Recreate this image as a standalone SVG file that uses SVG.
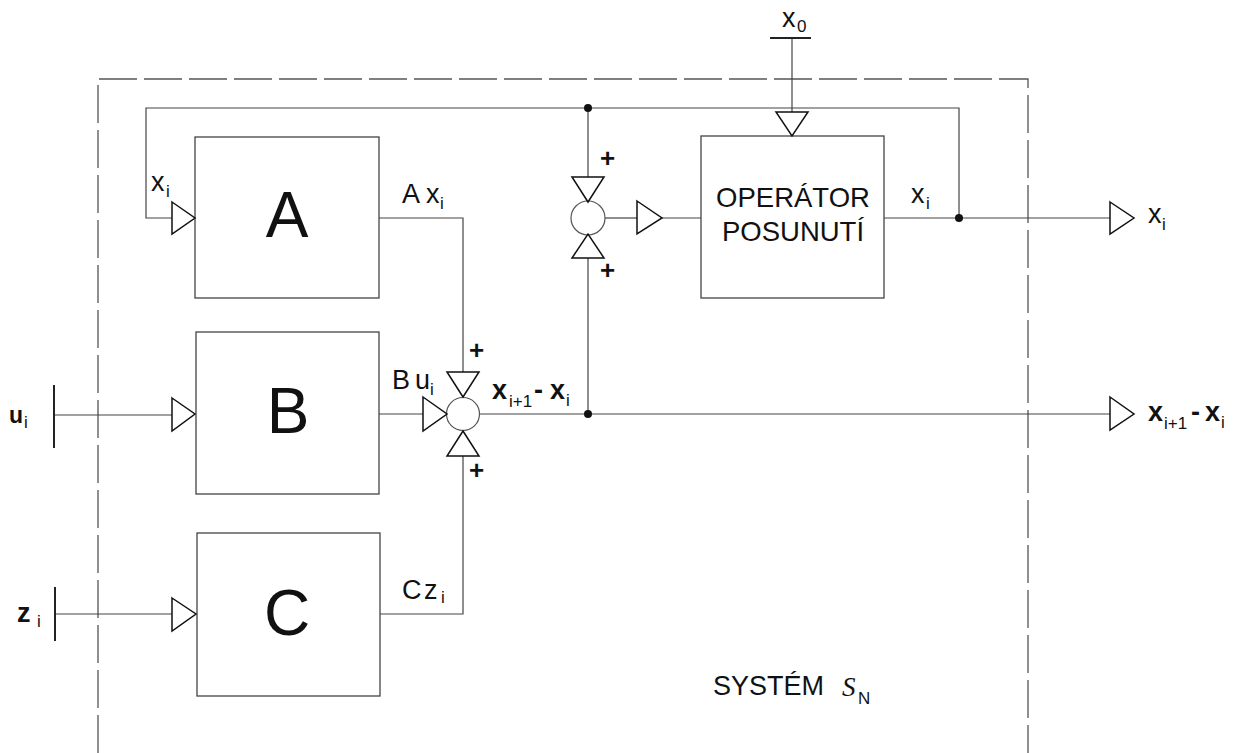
<svg xmlns="http://www.w3.org/2000/svg" width="1235" height="753" viewBox="0 0 1235 753">
<style>
.box{fill:#fff;stroke:#444;stroke-width:1.3}
.ln{fill:none;stroke:#444;stroke-width:1.2}
.bar{fill:none;stroke:#222;stroke-width:2}
.tri{fill:#fff;stroke:#111;stroke-width:1.5;stroke-linejoin:miter}
.sum{fill:#fff;stroke:#555;stroke-width:1.2}
.dot{fill:#111}
.frame{fill:none;stroke:#555;stroke-width:1.3;stroke-dasharray:38 7}
text{font-family:"Liberation Sans",Arial,sans-serif;fill:#111}
.big{font-size:64px;text-anchor:middle}
.op{font-size:27.5px;text-anchor:middle}
.lb{font-size:27px}
.lbb{font-size:27px;font-weight:bold}
.sub{font-size:17px}
.plus{font-size:26px;font-weight:bold}
</style>
<rect width="1235" height="753" fill="#fff"/>
<g id="frame"><path class="frame" d="M98,753 V79 H1028 V753"/></g>
<g id="connectors">
<path class="ln" d="M959,218 V108 H146 V218 H172"/>
<path class="ln" d="M884,218 H1110"/>
<path class="ln" d="M792,38 V112"/>
<path class="ln" d="M379,218 H463 V372"/>
<path class="ln" d="M379,414 H423"/>
<path class="ln" d="M380,614 H463 V456"/>
<path class="ln" d="M480,414 H1110"/>
<path class="ln" d="M588,108 V177"/>
<path class="ln" d="M588,414 V258"/>
<path class="ln" d="M605,218 H637"/>
<path class="ln" d="M662,218 H701"/>
<path class="ln" d="M54,415 H172"/>
<path class="ln" d="M55,614 H172"/>
<circle class="dot" cx="588" cy="108" r="4"/>
<circle class="dot" cx="588" cy="414" r="4"/>
<circle class="dot" cx="959" cy="218" r="4"/>
</g>
<g id="blockA">
<rect class="box" x="195" y="137" width="184" height="161"/>
<text class="big" x="287" y="237">A</text>
<polygon class="tri" points="172,202 195,218 172,234"/>
</g>
<g id="blockB">
<rect class="box" x="196" y="332" width="183" height="162"/>
<text class="big" x="288" y="433">B</text>
<polygon class="tri" points="172,398 195,414 172,431"/>
</g>
<g id="blockC">
<rect class="box" x="197" y="533" width="183" height="163"/>
<text class="big" x="287" y="635">C</text>
<polygon class="tri" points="172,598 196,614 172,631"/>
</g>
<g id="operator">
<rect class="box" x="701" y="136" width="183" height="162"/>
<text class="op" x="793" y="207">OPERÁTOR</text>
<text class="op" x="793" y="241">POSUNUTÍ</text>
<polygon class="tri" points="637,201 662,218 637,234"/>
<polygon class="tri" points="776,112 808,112 792,136"/>
</g>
<g id="sum1">
<circle class="sum" cx="463" cy="414" r="16.5"/>
<polygon class="tri" points="423,397 447,414 423,431"/>
<polygon class="tri" points="447,372 479,372 463,397"/>
<polygon class="tri" points="447,456 479,456 463,431"/>
<text class="plus" x="469" y="359">+</text>
<text class="plus" x="469" y="479">+</text>
</g>
<g id="sum2">
<circle class="sum" cx="588" cy="218" r="17"/>
<polygon class="tri" points="572,177 604,177 588,202"/>
<polygon class="tri" points="572,258 604,258 588,234"/>
<text class="plus" x="600" y="167">+</text>
<text class="plus" x="600" y="279">+</text>
</g>
<g id="input-u">
<path class="bar" d="M54,385 V448"/>
<text class="lbb" x="9" y="423" style="font-size:23px">u</text><text class="sub" x="24" y="428">i</text>
</g>
<g id="input-z">
<path class="bar" d="M55,587 V641"/>
<text class="lbb" x="17" y="622">z</text><text class="sub" x="37" y="627">i</text>
</g>
<g id="input-x0">
<path class="bar" d="M770,38 H811"/>
<text class="lb" x="782" y="27">x</text><text class="sub" x="797" y="32">0</text>
</g>
<g id="output-xi">
<polygon class="tri" points="1110,202 1134,218 1110,234"/>
<text class="lb" x="1148" y="223">x</text><text class="sub" x="1162" y="230">i</text>
</g>
<g id="output-diff">
<polygon class="tri" points="1110,397 1134,414 1110,430"/>
<text class="lbb" x="1148" y="421">x</text><text class="sub" x="1164" y="429">i+1</text><text class="lbb" x="1191" y="421">-</text><text class="lbb" x="1205" y="421">x</text><text class="sub" x="1221" y="428">i</text>
</g>
<g id="labels">
<text class="lb" x="151" y="191">x</text><text class="sub" x="166" y="197">i</text>
<text class="lb" x="402" y="203">A</text><text class="lb" x="426" y="203">x</text><text class="sub" x="440" y="209">i</text>
<text class="lb" x="392" y="389">B</text><text class="lb" x="415" y="389">u</text><text class="sub" x="430" y="395">i</text>
<text class="lb" x="402" y="599">C</text><text class="lb" x="424" y="599">z</text><text class="sub" x="441" y="603">i</text>
<text class="lbb" x="492" y="399">x</text><text class="sub" x="509" y="407">i+1</text><text class="lbb" x="534" y="399">-</text><text class="lbb" x="550" y="399">x</text><text class="sub" x="566" y="406">i</text>
<text class="lb" x="911" y="203">x</text><text class="sub" x="926" y="209">i</text>
<text x="713" y="695" style="font-size:27px">SYSTÉM</text>
<text x="842" y="696" style="font-family:'Liberation Serif',serif;font-style:italic;font-size:27px">S</text><text class="sub" x="858" y="704">N</text>
</g>
</svg>
